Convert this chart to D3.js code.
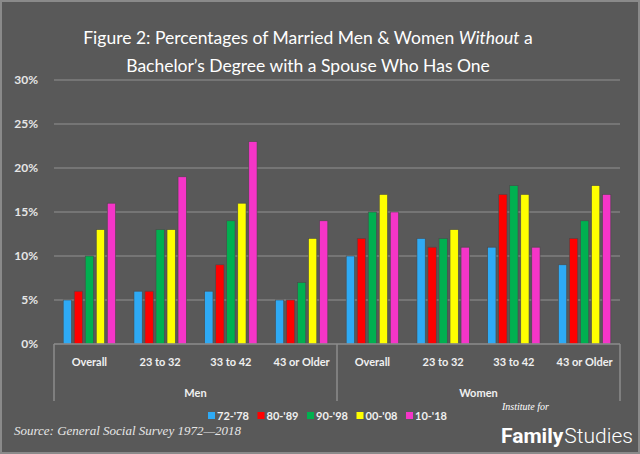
<!DOCTYPE html>
<html>
<head>
<meta charset="utf-8">
<script src="https://cdn.jsdelivr.net/npm/d3@7"></script>
<style>
  body { margin: 0; background: #595959; }
  svg { display: block; }
</style>
</head>
<body>
<svg id="chart" width="640" height="454"></svg>
<script>
const genders = ['Men', 'Women']
const ages = ['Overall', '23 to 32', '33 to 42', '43 or Older']
const series = ["72-'78", "80-'89", "90-'98", "00-'08", "10-'18"]
const colors = ['#2eaaf5', '#ff0000', '#00b050', '#ffff00', '#f535c8']
const yTicks = [0, 5, 10, 15, 20, 25, 30]

// one row per gender/age, five values (percent) per row
const menValues = [
  [5, 6, 10, 13, 16],
  [6, 6, 13, 13, 19],
  [6, 9, 14, 16, 23],
  [5, 5, 7, 12, 14],
]
const womenValues = [
  [10, 12, 15, 17, 15],
  [12, 11, 12, 13, 11],
  [11, 17, 18, 17, 11],
  [9, 12, 14, 18, 17],
]

const rows = []
genders.forEach((g, gi) => {
  const vals = gi === 0 ? menValues : womenValues
  ages.forEach((a, ai) => rows.push({ key: g + '|' + a, gender: g, age: a, values: vals[ai] }))
})

const svg = d3.select('#chart')
const W = 640, H = 454
const plotL = 54, plotR = 620, plotT = 80, plotB = 344

svg.append('rect').attr('x', 1).attr('y', 1).attr('width', W - 2).attr('height', H - 2)
  .attr('fill', '#595959').attr('stroke', '#8a8a8a').attr('stroke-width', 2)

// title
const title = svg.append('text').attr('x', 308).attr('fill', '#ffffff')
  .attr('text-anchor', 'middle').style('font-family', 'Lato, sans-serif').style('font-size', '17.5px')
const line1 = title.append('tspan').attr('x', 308).attr('y', 44)
line1.append('tspan').text('Figure 2: Percentages of Married Men & Women ')
line1.append('tspan').style('font-style', 'italic').text('Without')
line1.append('tspan').text(' a')
title.append('tspan').attr('x', 308).attr('y', 72).text('Bachelor\u2019s Degree with a Spouse Who Has One')

const y = d3.scaleLinear().domain([0, 30]).range([plotB, plotT])
const x0 = d3.scaleBand().domain(rows.map(d => d.key)).range([plotL, plotR])
  .paddingInner(0.26).paddingOuter(0.13)
const x1 = d3.scaleBand().domain(series).range([0, x0.bandwidth()]).paddingInner(0.25)
const xg = d3.scaleBand().domain(genders).range([plotL, plotR])

// gridlines
svg.append('g').selectAll('line').data(yTicks.slice(1)).join('line')
  .attr('x1', plotL).attr('x2', plotR)
  .attr('y1', d => y(d)).attr('y2', d => y(d))
  .attr('stroke', '#7f7f7f').attr('stroke-width', 1.5)

// y axis labels
const yAxis = svg.append('g').attr('transform', `translate(${plotL - 13},0)`)
  .call(d3.axisLeft(y).tickValues(yTicks).tickFormat(d => d + '%').tickSize(0))
yAxis.select('.domain').remove()
yAxis.selectAll('text').attr('fill', '#e6e6e6')
  .style('font-family', 'Lato, sans-serif').style('font-size', '12px').style('font-weight', 'bold')

// bars
const groups = svg.append('g').selectAll('g').data(rows).join('g')
  .attr('transform', d => `translate(${x0(d.key)},0)`)
groups.selectAll('rect').data(d => d.values.map((v, i) => ({ s: series[i], v, c: colors[i] }))).join('rect')
  .attr('x', d => x1(d.s)).attr('width', x1.bandwidth())
  .attr('y', d => y(d.v)).attr('height', d => y(0) - y(d.v))
  .attr('fill', d => d.c).attr('stroke', '#4a4a4a').attr('stroke-width', 0.6)

// x axis line
svg.append('line').attr('x1', plotL).attr('x2', plotR).attr('y1', plotB).attr('y2', plotB)
  .attr('stroke', '#8c8c8c').attr('stroke-width', 1.5)

// age labels
const xAxis = svg.append('g').attr('transform', `translate(0,${plotB})`)
  .call(d3.axisBottom(x0).tickSize(0).tickPadding(14).tickFormat(k => k.split('|')[1]))
xAxis.select('.domain').remove()
xAxis.selectAll('text').attr('fill', '#f0f0f0')
  .style('font-family', 'Lato, sans-serif').style('font-size', '11px').style('font-weight', 'bold')

// gender separators and labels
const sep = [plotL, ...genders.map(g => xg(g) + xg.bandwidth())]
svg.append('g').selectAll('line').data(sep).join('line')
  .attr('x1', d => d).attr('x2', d => d).attr('y1', plotB).attr('y2', 401)
  .attr('stroke', '#8c8c8c').attr('stroke-width', 1.5)
svg.append('g').selectAll('text').data(genders).join('text')
  .attr('x', d => xg(d) + xg.bandwidth() / 2).attr('y', 397)
  .attr('text-anchor', 'middle').attr('fill', '#f0f0f0')
  .style('font-family', 'Lato, sans-serif').style('font-size', '11px').style('font-weight', 'bold')
  .text(d => d)

// legend
const legend = svg.append('g').selectAll('g').data(series).join('g')
  .attr('transform', (d, i) => `translate(${208 + i * 49.5},416)`)
legend.append('rect').attr('x', 0).attr('y', -4).attr('width', 7).attr('height', 7)
  .attr('fill', (d, i) => colors[i])
legend.append('text').attr('x', 9).attr('y', 4).attr('fill', '#f0f0f0')
  .style('font-family', 'Lato, sans-serif').style('font-size', '11px').style('font-weight', 'bold')
  .text(d => d)

// source
svg.append('text').attr('x', 14).attr('y', 435).attr('fill', '#e6e6e6')
  .style('font-family', '"Liberation Serif", serif').style('font-style', 'italic').style('font-size', '13px')
  .text('Source: General Social Survey 1972\u20142018')

// logo
svg.append('text').attr('x', 502).attr('y', 410).attr('fill', '#ffffff')
  .style('font-family', '"Liberation Serif", serif').style('font-style', 'italic').style('font-size', '10px')
  .text('Institute for')
const logo = svg.append('text').attr('x', 501).attr('y', 443).attr('fill', '#ffffff')
  .style('font-family', 'Roboto, sans-serif').style('font-size', '21px')
logo.append('tspan').style('font-weight', 'bold').text('Family')
logo.append('tspan').attr('dx', 1).style('font-weight', '300').text('Studies')
</script>
</body>
</html>
